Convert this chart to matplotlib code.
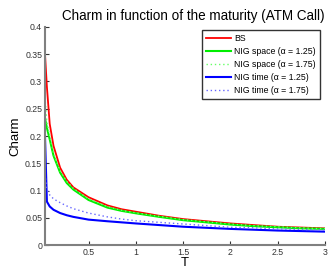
import matplotlib
matplotlib.use("Agg")
import matplotlib.pyplot as plt

plt.rcParams['font.family'] = ['Liberation Sans', 'DejaVu Sans']

T = [0.04, 0.06, 0.09, 0.13, 0.2, 0.27, 0.34, 0.5, 0.7, 0.85, 1.0, 1.25, 1.5, 1.75, 2.0, 2.25, 2.5, 2.75, 3.0]
bs = [0.35, 0.29, 0.222, 0.182, 0.142, 0.12, 0.106, 0.088, 0.073, 0.066, 0.0615, 0.054, 0.048, 0.044, 0.040, 0.037, 0.034, 0.0325, 0.031]
nig_space_125 = [0.232, 0.215, 0.194, 0.164, 0.133, 0.114, 0.102, 0.083, 0.069, 0.063, 0.0586, 0.052, 0.046, 0.042, 0.038, 0.035, 0.033, 0.031, 0.030]
nig_space_175 = [0.27, 0.225, 0.2, 0.168, 0.136, 0.117, 0.104, 0.085, 0.071, 0.064, 0.0595, 0.053, 0.047, 0.043, 0.039, 0.036, 0.034, 0.032, 0.0305]
nig_time_125 = [0.198, 0.08, 0.071, 0.065, 0.059, 0.055, 0.052, 0.047, 0.044, 0.042, 0.040, 0.037, 0.034, 0.032, 0.030, 0.0285, 0.027, 0.026, 0.025]
nig_time_175 = [0.13, 0.102, 0.092, 0.085, 0.078, 0.072, 0.067, 0.059, 0.052, 0.048, 0.045, 0.042, 0.039, 0.036, 0.033, 0.032, 0.030, 0.029, 0.028]

labels = ['BS', 'NIG space (\u03b1 = 1.25)', 'NIG space (\u03b1 = 1.75)',
          'NIG time (\u03b1 = 1.25)', 'NIG time (\u03b1 = 1.75)']
xticks = [0.5, 1, 1.5, 2, 2.5, 3]
xticklabels = ['0.5', '1', '1.5', '2', '2.5', '3']
yticks = [0, 0.05, 0.1, 0.15, 0.2, 0.25, 0.3, 0.35, 0.4]
yticklabels = ['0', '0.05', '0.1', '0.15', '0.2', '0.25', '0.3', '0.35', '0.4']

fig = plt.figure(figsize=(3.31, 2.69), dpi=100)
ax = fig.add_axes([45/331, 1-245.3/269, 280/331, (245.3-26.7)/269])

ax.plot(T, bs, color='#ff0000', lw=1.3, label=labels[0])
ax.plot(T, nig_space_125, color='#00ee00', lw=1.5, label=labels[1])
ax.plot(T, nig_space_175, color='#66ff66', lw=1.0, ls=(0, (1, 2)), label=labels[2])
ax.plot(T, nig_time_125, color='#0000ff', lw=1.5, label=labels[3])
ax.plot(T, nig_time_175, color='#6666ff', lw=1.0, ls=(0, (1, 2)), label=labels[4])

ax.set_xlim(0.04, 3)
ax.set_ylim(0, 0.4)
ax.set_xticks(xticks)
ax.set_xticklabels(xticklabels)
ax.set_yticks(yticks)
ax.set_yticklabels(yticklabels)
ax.tick_params(direction='in', length=3, width=0.8, labelsize=6.3, colors='#333333', pad=2)
for s in ['top', 'right']:
    ax.spines[s].set_visible(False)
for s in ['left', 'bottom']:
    ax.spines[s].set_color('#808080')
    ax.spines[s].set_linewidth(1.5)

ax.set_title('Charm in function of the maturity (ATM Call)', fontsize=9.75, pad=5, x=0.529)
ax.set_xlabel('T', fontsize=9.5, labelpad=0)
ax.set_ylabel('Charm', fontsize=9.5, labelpad=3)

leg = ax.legend(loc='upper right', bbox_to_anchor=(320/331, 1-30/269), bbox_transform=fig.transFigure,
                fontsize=6.3, frameon=True, fancybox=False, handlelength=2.9, handletextpad=0.35,
                borderpad=0.45, labelspacing=0.45, borderaxespad=0)
leg.get_frame().set_edgecolor('black')
leg.get_frame().set_linewidth(1.0)

fig.savefig('out.png', dpi=100)
